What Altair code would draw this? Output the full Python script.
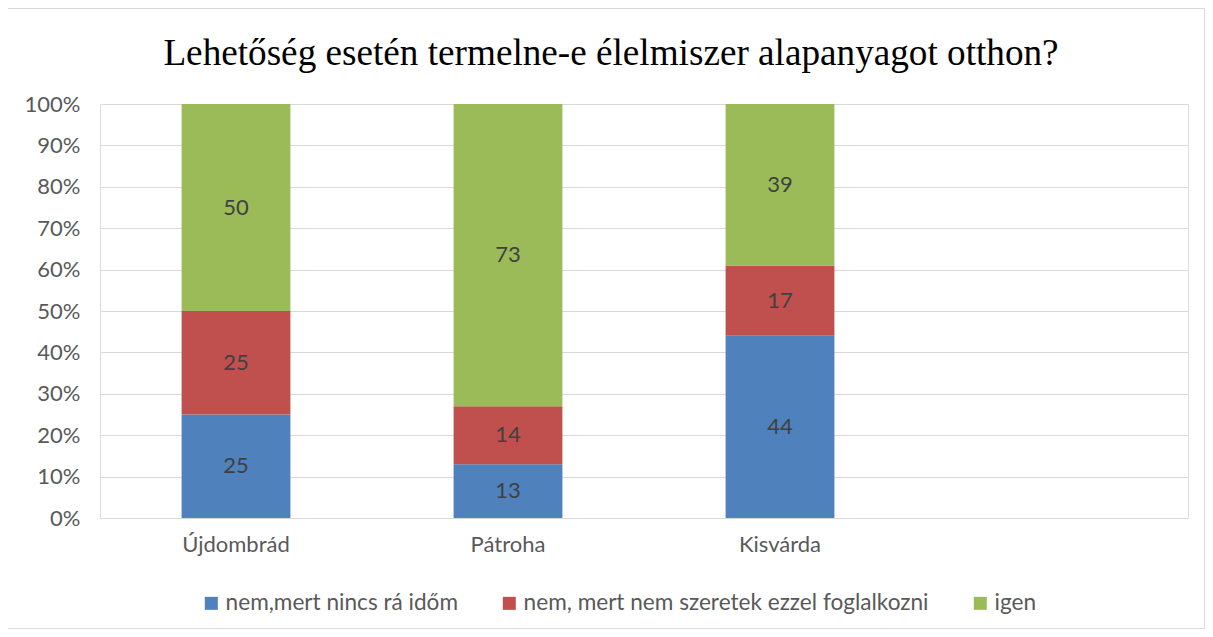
import altair as alt
import pandas as pd

# ---- data ----
categories = ["Újdombrád", "Pátroha", "Kisvárda"]
x_domain = categories + [""]
series = ["nem,mert nincs rá időm", "nem, mert nem szeretek ezzel foglalkozni", "igen"]
nincs_idom = [25, 13, 44]
nem_szeretek = [25, 14, 17]
igen = [50, 73, 39]
colors = ["#4F81BD", "#C0504D", "#9BBB59"]
y_ticks = [0, 0.1, 0.2, 0.3, 0.4, 0.5, 0.6, 0.7, 0.8, 0.9, 1.0]

rows = []
for i, c in enumerate(categories):
    for j, (s, vals) in enumerate(zip(series, [nincs_idom, nem_szeretek, igen])):
        rows.append({"cat": c, "series": s, "order": j, "value": vals[i]})
df = pd.DataFrame(rows)

FONT = "Lato"
GRAY = "#595959"

base = alt.Chart(df).transform_stack(
    stack="value",
    as_=["y0", "y1"],
    groupby=["cat"],
    sort=[alt.SortField("order", order="ascending")],
    offset="normalize",
).transform_calculate(mid="(datum.y0 + datum.y1) / 2")

xenc = alt.X(
    "cat:N",
    scale=alt.Scale(domain=x_domain, paddingInner=0.6, paddingOuter=0.3),
    axis=alt.Axis(
        title=None, labelAngle=0, domain=False, ticks=False, labelPadding=16,
        labelFont=FONT, labelFontSize=22, labelColor=GRAY,
    ),
)

yscale = alt.Scale(domain=[0, 1])

bars = base.mark_bar().encode(
    x=xenc,
    y=alt.Y(
        "y0:Q",
        scale=yscale,
        axis=alt.Axis(
            title=None, format=".0%", values=y_ticks, domain=False, ticks=False,
            labelPadding=20, labelFont=FONT, labelFontSize=22, labelColor=GRAY,
            gridColor="#D9D9D9", gridWidth=1,
        ),
    ),
    y2="y1:Q",
    color=alt.Color(
        "series:N",
        scale=alt.Scale(domain=series, range=colors),
        legend=alt.Legend(
            title=None, orient="none", legendX=100, legendY=488,
            direction="horizontal", columns=3, columnPadding=40,
            symbolType="square", symbolSize=169, symbolStrokeWidth=0,
            labelFont=FONT, labelFontSize=22.6, labelColor=GRAY,
            labelOffset=3, labelLimit=600,
        ),
    ),
)

labels = base.mark_text(
    font=FONT, fontSize=22, color="#404040", baseline="middle", align="center"
).encode(
    x=alt.X("cat:N", scale=alt.Scale(domain=x_domain, paddingInner=0.6, paddingOuter=0.3)),
    y=alt.Y("mid:Q", scale=yscale),
    text=alt.Text("value:Q"),
)

border = alt.Chart(pd.DataFrame({"k": [0]})).mark_rect(
    fill=None, stroke="#D9D9D9", strokeWidth=1
).encode(
    x=alt.value(-92.5), x2=alt.value(1104.5), y=alt.value(-95.5), y2=alt.value(524.5)
)

chart = alt.layer(border, bars, labels).properties(
    width=1088,
    height=414,
    padding={"left": 92, "top": 96, "right": 17, "bottom": 111},
    autosize=alt.AutoSizeParams(type="none"),
    title=alt.TitleParams(
        "Lehetőség esetén termelne-e élelmiszer alapanyagot otthon?",
        font="Liberation Serif", fontSize=37.2, fontWeight="normal", color="#000000",
        anchor="middle", dx=-33, offset=0, baseline="alphabetic", dy=94,
    ),
).configure_view(stroke=None).configure(background="white")

chart.save("out.html", embed_options={"renderer": "svg", "actions": False})
